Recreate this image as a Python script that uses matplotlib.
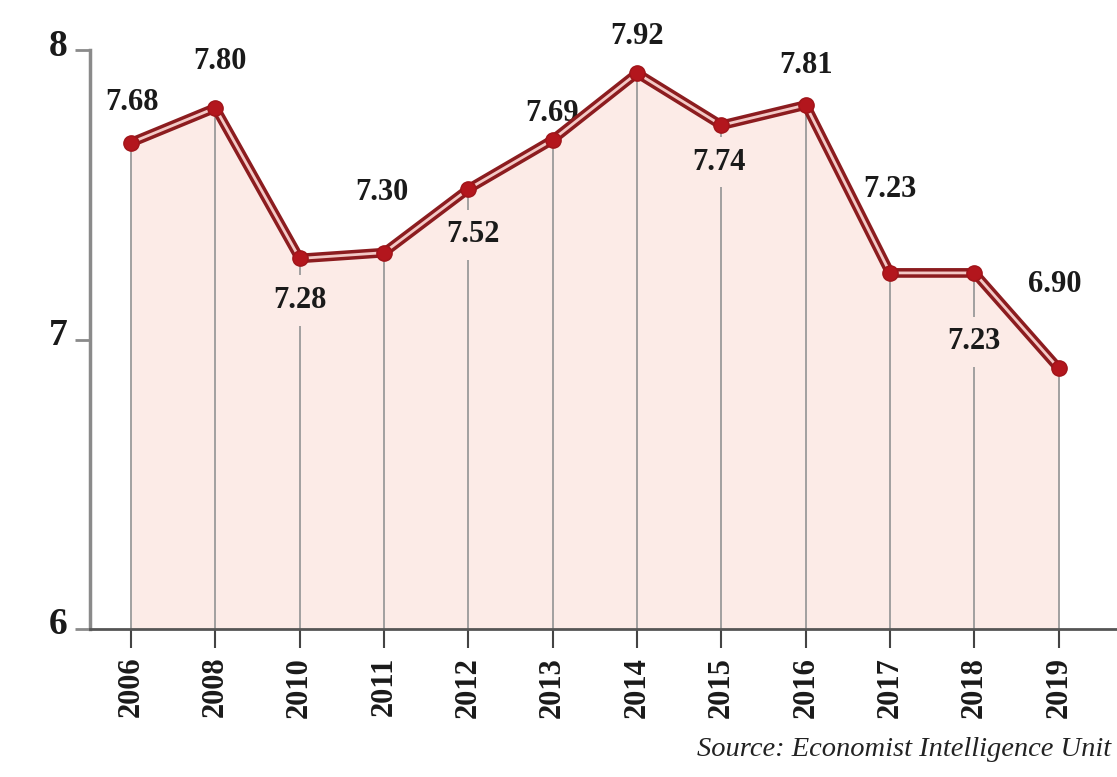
import numpy as np
import matplotlib
matplotlib.use("Agg")
import matplotlib.pyplot as plt
from matplotlib.transforms import ScaledTranslation

plt.rcParams.update({"font.family": ["Liberation Serif", "DejaVu Serif"]})

## data
years = ['2006', '2008', '2010', '2011', '2012', '2013',
         '2014', '2015', '2016', '2017', '2018', '2019']
scores = [7.68, 7.80, 7.28, 7.30, 7.52, 7.69,
          7.92, 7.74, 7.81, 7.23, 7.23, 6.90]
yticks = [6, 7, 8]
source = 'Source: Economist Intelligence Unit'

## label offsets in pixels (above / below the point)
label_dy = [40, 46, -42, 60, -46, 26, 37, -37, 40, 83, -69, 84]
label_dx = [1, 5, 0, -2, 5, -1, 0, -2, 0, 0, -1, -4]

x = np.arange(len(years))

fig = plt.figure(figsize=(11.17, 7.77), dpi=100)
ax = fig.add_axes([90/1117, 148/777, 1 - 90/1117, (629-50)/777])
ax.set_xlim(-0.486, 11.69)
ax.set_ylim(6, 8)

fill_col = '#fcebe7'
ax.fill_between(x, scores, 6, color=fill_col, lw=0, zorder=1)
ax.vlines(x, 6, scores, color='#9a9a9a', lw=1.3, zorder=2)

## double stroke line: dark outer, light inner
ax.plot(x, scores, color='#8c1c1f', lw=7, solid_joinstyle='miter', zorder=4)
ax.plot(x, scores, color='#f3c9c6', lw=2, solid_joinstyle='miter', zorder=5)
ax.plot(x, scores, 'o', color='#b3161d', ms=11, mec='#a01419', zorder=6)

for xi, v, dy, dx in zip(x, scores, label_dy, label_dx):
    ax.annotate(f'{v:.2f}', (xi, v), xytext=(dx, dy), textcoords='offset pixels',
                ha='center', va='center', fontsize=22, fontweight='bold',
                color='#1a1a1a', zorder=3, annotation_clip=False,
                bbox=dict(boxstyle='square,pad=0.35', fc=fill_col if dy < 0 else 'none',
                          ec='none'))

ax.set_xticks(x)
ax.set_xticklabels(years, rotation=90, fontsize=22, fontweight='bold', color='#1a1a1a')
ax.tick_params(axis='x', length=14, width=1.5, color='#444444', pad=6)

ax.set_yticks(yticks)
ax.set_yticklabels([str(t) for t in yticks], fontsize=27, fontweight='bold', color='#1a1a1a')
ax.tick_params(axis='y', length=11, width=2, color='#8a8a8a', pad=5)
for lab in ax.get_yticklabels():
    lab.set_transform(lab.get_transform() + ScaledTranslation(0, 8/100, fig.dpi_scale_trans))

ax.spines['top'].set_visible(False)
ax.spines['right'].set_visible(False)
ax.spines['left'].set_color('#8a8a8a')
ax.spines['left'].set_linewidth(2.5)
ax.spines['bottom'].set_color('#555555')
ax.spines['bottom'].set_linewidth(2)

fig.text(697/1117, 1 - 750/777, source, fontsize=20.5, style='italic',
         color='#222222', ha='left', va='center')

plt.savefig('out.png', dpi=100)
